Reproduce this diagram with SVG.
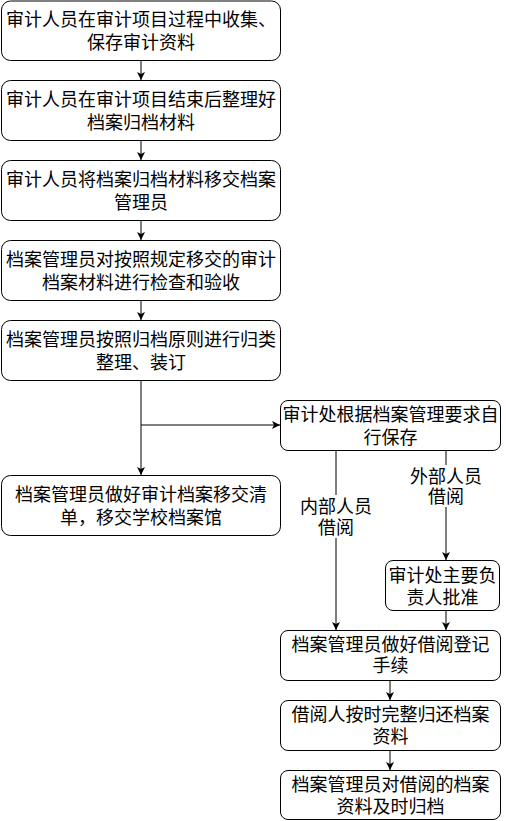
<svg xmlns="http://www.w3.org/2000/svg" width="506" height="821" viewBox="0 0 506 821">
<style>
.box{fill:#fff;stroke:#000;stroke-width:1}
.t{font-family:"Noto Sans CJK SC","Noto Sans",sans-serif;font-size:18px;fill:#000;text-anchor:middle}
.c{fill:none;stroke:#000;stroke-width:1}
.bg{fill:#fff;stroke:none}
</style>
<defs>
<marker id="ah" markerUnits="userSpaceOnUse" markerWidth="10" markerHeight="10" refX="8" refY="4" orient="auto">
<path d="M0,0 L8,4 L0,8 L2,4 z" fill="#000"/>
</marker>
</defs>
<rect width="506" height="821" fill="#fff"/>
<g id="connectors">
<path class="c" d="M141,60.5 V80" marker-end="url(#ah)"/>
<path class="c" d="M141,140.5 V160" marker-end="url(#ah)"/>
<path class="c" d="M141,220.5 V240" marker-end="url(#ah)"/>
<path class="c" d="M141,300.5 V320" marker-end="url(#ah)"/>
<path class="c" d="M141,380.5 V475" marker-end="url(#ah)"/>
<path class="c" d="M141,425 H280" marker-end="url(#ah)"/>
<path class="c" d="M336,450.5 V630" marker-end="url(#ah)"/>
<path class="c" d="M446,450.5 V560" marker-end="url(#ah)"/>
<path class="c" d="M446,610 V630" marker-end="url(#ah)"/>
<path class="c" d="M390,680 V700" marker-end="url(#ah)"/>
<path class="c" d="M390,750 V770" marker-end="url(#ah)"/>
<g id="label-internal">
<rect class="bg" x="300" y="495" width="72" height="43"/>
<text class="t" x="336" y="513">内部人员<tspan x="336" dy="21">借阅</tspan></text>
</g>
<g id="label-external">
<rect class="bg" x="410" y="465" width="72" height="42"/>
<text class="t" x="446" y="483">外部人员<tspan x="446" dy="20">借阅</tspan></text>
</g>
</g>
<g id="n1">
<rect class="box" x="1.5" y="1" width="279" height="59.5" rx="9"/>
<text class="t" x="141" y="26">审计人员在审计项目过程中收集、<tspan x="141" dy="23">保存审计资料</tspan></text>
</g>
<g id="n2">
<rect class="box" x="1.5" y="80.5" width="279" height="60" rx="9"/>
<text class="t" x="141" y="106">审计人员在审计项目结束后整理好<tspan x="141" dy="23">档案归档材料</tspan></text>
</g>
<g id="n3">
<rect class="box" x="1.5" y="160.5" width="279" height="60" rx="9"/>
<text class="t" x="141" y="186">审计人员将档案归档材料移交档案<tspan x="141" dy="23">管理员</tspan></text>
</g>
<g id="n4">
<rect class="box" x="1.5" y="240.5" width="279" height="60" rx="9"/>
<text class="t" x="141" y="266">档案管理员对按照规定移交的审计<tspan x="141" dy="23">档案材料进行检查和验收</tspan></text>
</g>
<g id="n5">
<rect class="box" x="1.5" y="320.5" width="279" height="60" rx="9"/>
<text class="t" x="141" y="346">档案管理员按照归档原则进行归类<tspan x="141" dy="23">整理、装订</tspan></text>
</g>
<g id="n6">
<rect class="box" x="1.5" y="475.5" width="279" height="60" rx="9"/>
<text class="t" x="141" y="501">档案管理员做好审计档案移交清<tspan x="141" dy="23">单，移交学校档案馆</tspan></text>
</g>
<g id="n7">
<rect class="box" x="280.5" y="400.5" width="220" height="50" rx="7.5"/>
<text class="t" x="390.5" y="421">审计处根据档案管理要求自<tspan x="390.5" dy="23">行保存</tspan></text>
</g>
<g id="n8">
<rect class="box" x="385.5" y="560.5" width="114" height="50" rx="7.5"/>
<text class="t" x="442.5" y="582">审计处主要负<tspan x="442.5" dy="22">责人批准</tspan></text>
</g>
<g id="n9">
<rect class="box" x="280.5" y="630.5" width="220" height="50" rx="7.5"/>
<text class="t" x="390.5" y="651">档案管理员做好借阅登记<tspan x="390.5" dy="21">手续</tspan></text>
</g>
<g id="n10">
<rect class="box" x="280.5" y="700.5" width="220" height="50" rx="7.5"/>
<text class="t" x="390.5" y="721">借阅人按时完整归还档案<tspan x="390.5" dy="22">资料</tspan></text>
</g>
<g id="n11">
<rect class="box" x="280.5" y="770.5" width="220" height="49" rx="7.5"/>
<text class="t" x="390.5" y="791">档案管理员对借阅的档案<tspan x="390.5" dy="22">资料及时归档</tspan></text>
</g>
</svg>
